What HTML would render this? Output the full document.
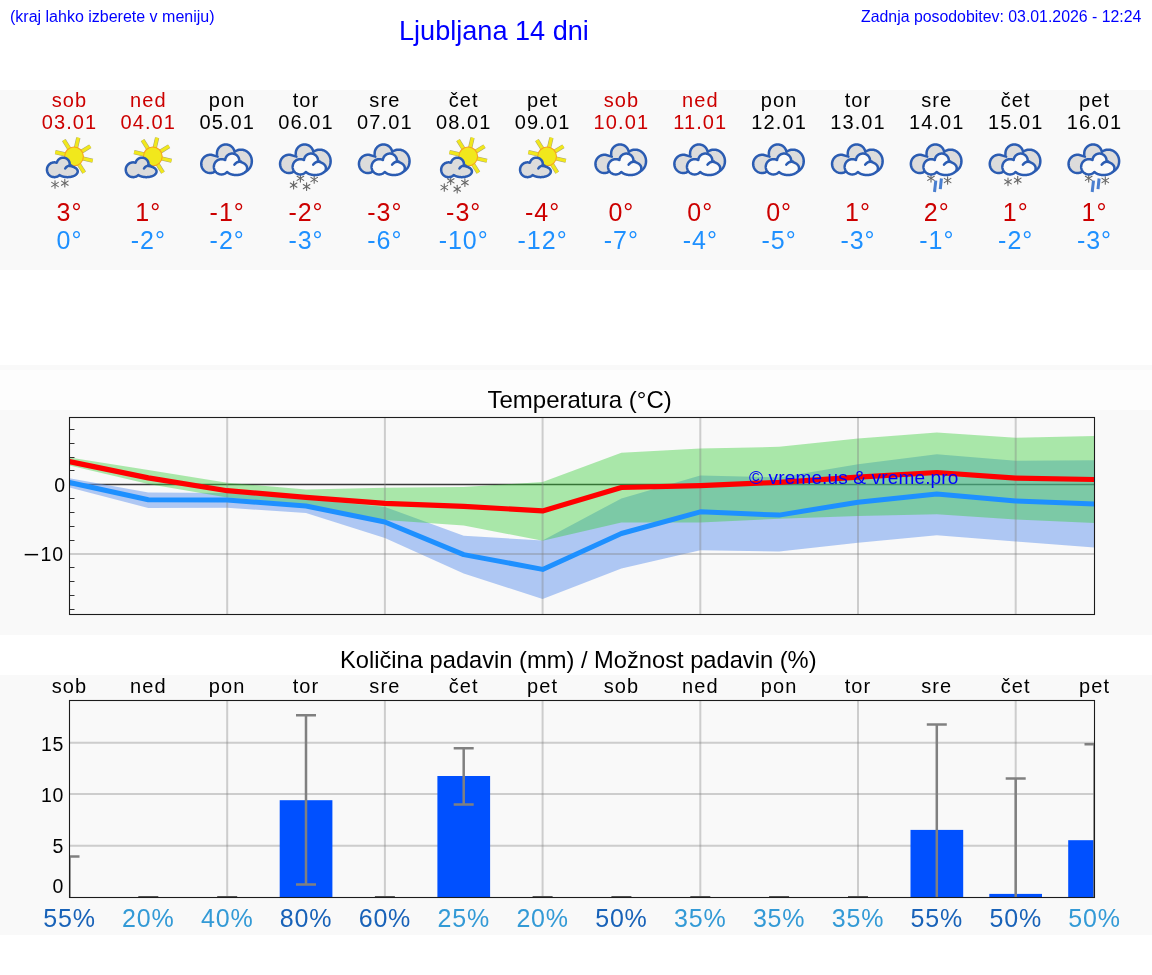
<!DOCTYPE html><html><head><meta charset="utf-8"><title>Ljubljana 14 dni</title><style>
html,body{margin:0;padding:0;background:#fff;}
body{width:1152px;height:975px;position:relative;overflow:hidden;font-family:"Liberation Sans", sans-serif;}
.t{position:absolute;white-space:nowrap;color:#0000ff;}
.band{position:absolute;left:0;width:1152px;background:#f9f9f9;}
svg{position:absolute;left:0;top:0;}
.t,svg{will-change:transform;}
</style></head><body>
<div class="band" style="top:90px;height:180px"></div>
<div class="band" style="top:365px;height:5px"></div>
<div class="band" style="top:370px;height:40px;background:#fdfdfd"></div>
<div class="band" style="top:410px;height:225px"></div>
<div class="band" style="top:675px;height:260px"></div>
<div class="t" style="left:9.5px;top:8px;font-size:16px;">(kraj lahko izberete v meniju)</div>
<div class="t" style="left:399.3px;top:14.6px;font-size:27.1px;">Ljubljana 14 dni</div>
<div class="t" style="right:10.2px;top:8px;font-size:15.86px;">Zadnja posodobitev: 03.01.2026 - 12:24</div>
<svg width="1152" height="975" viewBox="0 0 1152 975" font-family='Liberation Sans, sans-serif'>
<defs>
<g id="sun"><line x1="1.57" y1="-6.82" x2="4.32" y2="-18.71" stroke="#a9a47a" stroke-width="4.3"/><line x1="5.94" y1="-3.71" x2="16.28" y2="-10.17" stroke="#a9a47a" stroke-width="4.3"/><line x1="6.82" y1="1.57" x2="18.71" y2="4.32" stroke="#a9a47a" stroke-width="4.3"/><line x1="3.71" y1="5.94" x2="10.17" y2="16.28" stroke="#a9a47a" stroke-width="4.3"/><line x1="-1.57" y1="6.82" x2="-4.32" y2="18.71" stroke="#a9a47a" stroke-width="4.3"/><line x1="-5.94" y1="3.71" x2="-16.28" y2="10.17" stroke="#a9a47a" stroke-width="4.3"/><line x1="-6.82" y1="-1.57" x2="-18.71" y2="-4.32" stroke="#a9a47a" stroke-width="4.3"/><line x1="-3.71" y1="-5.94" x2="-10.17" y2="-16.28" stroke="#a9a47a" stroke-width="4.3"/><line x1="1.57" y1="-6.82" x2="4.32" y2="-18.71" stroke="#f1e81c" stroke-width="3.2"/><line x1="5.94" y1="-3.71" x2="16.28" y2="-10.17" stroke="#f1e81c" stroke-width="3.2"/><line x1="6.82" y1="1.57" x2="18.71" y2="4.32" stroke="#f1e81c" stroke-width="3.2"/><line x1="3.71" y1="5.94" x2="10.17" y2="16.28" stroke="#f1e81c" stroke-width="3.2"/><line x1="-1.57" y1="6.82" x2="-4.32" y2="18.71" stroke="#f1e81c" stroke-width="3.2"/><line x1="-5.94" y1="3.71" x2="-16.28" y2="10.17" stroke="#f1e81c" stroke-width="3.2"/><line x1="-6.82" y1="-1.57" x2="-18.71" y2="-4.32" stroke="#f1e81c" stroke-width="3.2"/><line x1="-3.71" y1="-5.94" x2="-10.17" y2="-16.28" stroke="#f1e81c" stroke-width="3.2"/><circle cx="0" cy="0" r="9.4" fill="#f1e81c" stroke="#f6a51f" stroke-width="1.1"/></g>
<g id="scloud"><path d="M7.88,170.00 L8.04,170.37 L8.14,170.74 L8.22,171.12 L8.24,171.50 L8.22,171.87 L8.14,172.24 L8.04,172.60 L7.89,172.95 L7.71,173.29 L7.48,173.61 L7.25,173.93 L6.97,174.21 L6.69,174.49 L6.38,174.75 L6.05,174.99 L5.71,175.21 L5.37,175.42 L5.01,175.61 L4.65,175.78 L4.31,175.95 L3.94,176.09 L3.59,176.23 L3.23,176.34 L2.88,176.45 L2.54,176.55 L2.21,176.65 L1.88,176.73 L1.55,176.80 L1.22,176.86 L0.92,176.92 L0.61,176.96 L0.30,177.00 L0.00,177.03 L-0.29,177.06 L-0.56,177.09 L-0.84,177.10 L-1.11,177.12 L-1.37,177.13 L-1.62,177.15 L-1.88,177.14 L-2.13,177.14 L-2.36,177.15 L-2.60,177.13 L-2.83,177.13 L-3.05,177.11 L-3.28,177.10 L-3.49,177.09 L-3.71,177.06 L-3.92,177.04 L-4.12,177.01 L-4.32,177.00 L-4.52,176.96 L-4.71,176.94 L-4.90,176.91 L-5.09,176.88 L-5.28,176.84 L-5.46,176.80 L-5.65,176.77 L-5.82,176.74 L-6.00,176.70 L-6.17,176.66 L-6.35,176.61 L-6.52,176.56 L-6.69,176.52 L-6.85,176.46 L-7.02,176.42 L-7.18,176.37 L-7.34,176.32 L-7.50,176.26 L-7.66,176.20 L-7.82,176.14 L-7.98,176.09 L-8.13,176.01 L-8.29,175.96 L-8.44,175.89 L-8.59,175.81 L-8.74,175.74 L-8.89,175.67 L-9.03,175.59 L-9.19,175.53 L-9.33,175.44 L-9.47,175.35 L-9.62,175.27 L-9.76,175.18 L-9.91,175.09 L-10.37,175.39 L-11.04,175.90 L-11.63,176.26 L-12.20,176.53 L-12.75,176.75 L-13.27,176.90 L-13.80,177.03 L-14.30,177.09 L-14.81,177.14 L-15.31,177.15 L-15.79,177.11 L-16.27,177.06 L-16.73,176.97 L-17.19,176.86 L-17.62,176.71 L-18.06,176.55 L-18.47,176.36 L-18.87,176.14 L-19.25,175.90 L-19.62,175.64 L-19.97,175.36 L-20.29,175.06 L-20.61,174.75 L-20.88,174.41 L-21.15,174.06 L-21.40,173.70 L-21.61,173.32 L-21.81,172.93 L-22.00,172.53 L-22.14,172.12 L-22.27,171.71 L-22.37,171.29 L-22.46,170.86 L-22.51,170.43 L-22.54,170.00 L-22.53,169.57 L-22.52,169.13 L-22.47,168.70 L-22.39,168.28 L-22.30,167.85 L-22.18,167.44 L-22.03,167.03 L-21.85,166.63 L-21.66,166.24 L-21.44,165.86 L-21.19,165.50 L-20.93,165.15 L-20.65,164.81 L-20.34,164.50 L-20.02,164.19 L-19.68,163.91 L-19.32,163.65 L-18.94,163.41 L-18.55,163.19 L-18.14,162.99 L-17.72,162.82 L-17.29,162.67 L-16.83,162.56 L-16.37,162.46 L-15.92,162.39 L-15.43,162.36 L-14.94,162.36 L-14.46,162.39 L-13.95,162.46 L-13.44,162.56 L-12.94,162.69 L-12.65,162.61 L-12.56,162.32 L-12.47,162.01 L-12.36,161.72 L-12.23,161.42 L-12.08,161.15 L-11.93,160.88 L-11.76,160.60 L-11.58,160.34 L-11.38,160.09 L-11.18,159.84 L-10.96,159.60 L-10.73,159.38 L-10.49,159.17 L-10.24,158.97 L-9.97,158.78 L-9.70,158.61 L-9.42,158.46 L-9.13,158.31 L-8.84,158.18 L-8.54,158.05 L-8.23,157.95 L-7.92,157.87 L-7.61,157.79 L-7.29,157.73 L-6.97,157.70 L-6.65,157.68 L-6.32,157.66 L-6.00,157.66 L-5.68,157.68 L-5.36,157.74 L-5.04,157.78 L-4.72,157.85 L-4.41,157.94 L-4.10,158.03 L-3.81,158.16 L-3.51,158.28 L-3.22,158.43 L-2.94,158.58 L-2.67,158.76 L-2.41,158.95 L-2.15,159.14 L-1.91,159.36 L-1.68,159.58 L-1.46,159.80 L-1.25,160.04 L-1.05,160.29 L-0.87,160.54 L-0.70,160.82 L-0.55,161.10 L-0.40,161.38 L-0.27,161.66 L-0.16,161.96 L-0.06,162.26 L0.03,162.55 L0.10,162.85 L0.16,163.16 L0.20,163.47 L0.22,163.78 L0.24,164.08 L0.24,164.38 L0.22,164.69 L0.20,164.98 L0.16,165.28 L0.10,165.57 L0.03,165.85 L0.19,165.98 L0.48,166.03 L0.81,166.07 L1.14,166.13 L1.47,166.20 L1.83,166.26 L2.20,166.35 L2.57,166.45 L2.96,166.56 L3.35,166.69 L3.76,166.83 L4.16,166.99 L4.57,167.17 L4.97,167.37 L5.37,167.58 L5.76,167.82 L6.15,168.08 L6.51,168.35 L6.85,168.65 L7.16,168.96 L7.42,169.30 L7.68,169.64Z" fill="#dcdcdc" stroke="#2b5cb2" stroke-width="2.5" stroke-linejoin="round"/><path d="M-4.3,168.5 Q-2.6,165.5 1.8,165.6" fill="none" stroke="#2b5cb2" stroke-width="2.5" stroke-linecap="round"/></g>
<g id="bcloud"><path d="M24.58,160.00 L24.63,160.65 L24.65,161.29 L24.62,161.94 L24.56,162.58 L24.47,163.22 L24.36,163.86 L24.19,164.48 L24.00,165.10 L23.78,165.71 L23.53,166.30 L23.24,166.88 L22.92,167.45 L22.57,167.99 L22.18,168.51 L21.77,169.02 L21.34,169.50 L20.87,169.95 L20.37,170.38 L19.84,170.77 L19.30,171.14 L18.72,171.47 L18.13,171.78 L17.52,172.04 L16.88,172.26 L16.23,172.46 L15.54,172.59 L14.86,172.69 L14.15,172.74 L13.42,172.73 L12.69,172.69 L11.94,172.58 L11.16,172.40 L10.38,172.15 L9.59,171.84 L8.77,171.42 L7.92,170.91 L7.02,170.22 L5.97,169.19 L1.09,161.77 L1.04,161.80 L0.98,161.81 L0.94,161.84 L0.88,161.84 L0.83,161.86 L0.77,161.87 L0.72,161.89 L0.67,161.89 L0.62,161.90 L0.57,161.92 L0.52,161.93 L0.47,161.94 L0.42,161.96 L0.36,161.97 L0.31,161.98 L0.26,161.98 L0.21,161.99 L0.16,161.99 L0.11,162.02 L0.05,162.02 L0.00,162.02 L-0.05,162.04 L-0.11,162.04 L-0.16,162.05 L-0.22,162.07 L-0.27,162.06 L-0.33,162.07 L-0.39,162.08 L-0.44,162.09 L-0.50,162.10 L-0.56,162.11 L-0.62,162.11 L-0.69,162.11 L-0.75,162.11 L-0.82,162.13 L-0.88,162.12 L-0.95,162.14 L-1.02,162.13 L-1.09,162.14 L-1.16,162.14 L-1.24,162.15 L-1.32,162.15 L-1.39,162.15 L-1.47,162.14 L-1.55,162.14 L-1.64,162.14 L-1.72,162.13 L-1.82,162.13 L-1.91,162.13 L-2.01,162.12 L-2.11,162.11 L-12.33,171.70 L-13.84,172.46 L-15.01,172.82 L-16.04,172.99 L-16.99,173.04 L-17.90,173.00 L-18.72,172.87 L-19.51,172.67 L-20.26,172.41 L-20.96,172.10 L-21.60,171.73 L-22.22,171.32 L-22.78,170.87 L-23.31,170.38 L-23.78,169.85 L-24.22,169.30 L-24.60,168.71 L-24.94,168.10 L-25.24,167.48 L-25.46,166.82 L-25.67,166.16 L-25.80,165.48 L-25.90,164.80 L-25.94,164.11 L-25.94,163.41 L-25.86,162.72 L-25.76,162.03 L-25.58,161.34 L-25.37,160.66 L-25.08,160.00 L-24.75,159.35 L-24.37,158.72 L-23.93,158.12 L-23.43,157.54 L-22.86,156.99 L-22.22,156.48 L-21.51,156.01 L-20.74,155.59 L-19.86,155.23 L-18.84,154.95 L-17.64,154.77 L-15.96,154.81 L-9.60,156.60 L-9.73,156.27 L-9.85,155.92 L-9.94,155.57 L-10.04,155.21 L-10.10,154.85 L-10.16,154.48 L-10.20,154.11 L-10.23,153.73 L-10.25,153.34 L-10.24,152.97 L-10.21,152.58 L-10.17,152.20 L-10.12,151.81 L-10.04,151.43 L-9.94,151.05 L-9.84,150.67 L-9.72,150.28 L-9.57,149.92 L-9.41,149.55 L-9.24,149.19 L-9.04,148.84 L-8.83,148.50 L-8.59,148.17 L-8.36,147.84 L-8.09,147.54 L-7.83,147.23 L-7.54,146.94 L-7.24,146.66 L-6.93,146.40 L-6.60,146.15 L-6.27,145.91 L-5.92,145.70 L-5.56,145.51 L-5.20,145.31 L-4.83,145.14 L-4.44,145.00 L-4.05,144.87 L-3.66,144.75 L-3.26,144.66 L-2.86,144.58 L-2.45,144.51 L-2.04,144.47 L-1.63,144.47 L-1.22,144.47 L-0.81,144.48 L-0.41,144.53 L-0.00,144.58 L0.40,144.65 L0.80,144.74 L1.19,144.85 L1.58,144.98 L1.96,145.13 L2.33,145.28 L2.69,145.47 L3.05,145.66 L3.39,145.86 L3.73,146.09 L4.04,146.35 L4.36,146.59 L4.65,146.86 L4.94,147.14 L5.20,147.44 L5.47,147.72 L5.71,148.03 L5.93,148.36 L6.15,148.68 L6.34,149.02 L6.52,149.36 L6.68,149.72 L6.83,150.06 L6.96,150.42 L7.07,150.78 L7.17,151.14 L7.26,151.50 L7.32,151.87 L8.32,151.24 L9.31,150.69 L10.23,150.29 L11.07,150.03 L11.91,149.83 L12.70,149.72 L13.47,149.66 L14.22,149.67 L14.95,149.73 L15.67,149.83 L16.35,149.98 L17.01,150.18 L17.66,150.41 L18.28,150.68 L18.86,151.00 L19.44,151.34 L19.99,151.72 L20.50,152.13 L21.00,152.56 L21.46,153.03 L21.88,153.52 L22.29,154.03 L22.66,154.56 L23.01,155.11 L23.32,155.68 L23.61,156.26 L23.85,156.86 L24.07,157.47 L24.25,158.09 L24.39,158.72 L24.49,159.36Z" fill="#dcdcdc" stroke="#2b5cb2" stroke-width="2.5" stroke-linejoin="round"/><path d="M19.78,167.00 L19.87,167.42 L19.92,167.83 L19.93,168.25 L19.91,168.67 L19.84,169.09 L19.74,169.49 L19.59,169.89 L19.42,170.28 L19.21,170.65 L18.97,171.01 L18.71,171.36 L18.42,171.68 L18.10,171.99 L17.78,172.29 L17.43,172.56 L17.06,172.82 L16.71,173.06 L16.33,173.28 L15.95,173.49 L15.55,173.67 L15.17,173.84 L14.79,174.00 L14.40,174.15 L14.02,174.28 L13.63,174.39 L13.26,174.50 L12.90,174.60 L12.53,174.68 L12.17,174.75 L11.81,174.81 L11.46,174.86 L11.12,174.91 L10.79,174.95 L10.46,174.97 L10.14,175.00 L9.83,175.03 L9.52,175.03 L9.22,175.03 L8.93,175.05 L8.64,175.04 L8.36,175.03 L8.09,175.02 L7.81,175.00 L7.55,174.98 L7.30,174.96 L7.05,174.94 L6.80,174.90 L6.56,174.87 L6.32,174.82 L6.09,174.79 L5.86,174.76 L5.64,174.71 L5.42,174.67 L5.21,174.62 L5.00,174.57 L4.79,174.52 L4.59,174.46 L4.39,174.41 L4.19,174.34 L4.00,174.28 L3.81,174.22 L3.63,174.15 L3.44,174.10 L3.26,174.02 L3.08,173.96 L2.91,173.87 L2.74,173.80 L2.57,173.73 L2.40,173.65 L2.24,173.57 L2.07,173.50 L1.92,173.41 L1.76,173.33 L1.61,173.24 L1.45,173.15 L1.30,173.07 L1.15,172.98 L1.01,172.86 L0.87,172.77 L0.72,172.68 L0.58,172.58 L0.45,172.47 L0.32,172.36 L0.18,172.26 L0.06,172.14 L-0.07,172.02 L-0.95,172.79 L-1.67,173.30 L-2.32,173.66 L-2.93,173.93 L-3.50,174.12 L-4.07,174.27 L-4.62,174.36 L-5.17,174.43 L-5.69,174.44 L-6.23,174.43 L-6.73,174.37 L-7.22,174.29 L-7.72,174.18 L-8.18,174.03 L-8.64,173.86 L-9.06,173.66 L-9.48,173.43 L-9.90,173.19 L-10.28,172.92 L-10.66,172.63 L-10.99,172.31 L-11.31,171.98 L-11.63,171.63 L-11.90,171.26 L-12.16,170.88 L-12.39,170.48 L-12.60,170.08 L-12.79,169.66 L-12.93,169.23 L-13.07,168.79 L-13.19,168.35 L-13.26,167.90 L-13.31,167.45 L-13.34,167.00 L-13.33,166.55 L-13.32,166.09 L-13.25,165.64 L-13.17,165.20 L-13.05,164.75 L-12.93,164.32 L-12.77,163.89 L-12.57,163.48 L-12.37,163.07 L-12.13,162.68 L-11.88,162.30 L-11.60,161.93 L-11.29,161.59 L-10.96,161.26 L-10.62,160.95 L-10.25,160.65 L-9.86,160.39 L-9.45,160.14 L-9.04,159.92 L-8.59,159.73 L-8.14,159.56 L-7.67,159.42 L-7.19,159.31 L-6.71,159.22 L-6.20,159.17 L-5.68,159.16 L-5.16,159.18 L-4.64,159.22 L-4.08,159.33 L-3.54,159.46 L-2.97,159.66 L-2.38,159.91 L-2.01,159.96 L-1.98,159.62 L-1.92,159.29 L-1.84,158.96 L-1.75,158.63 L-1.65,158.29 L-1.53,157.98 L-1.40,157.65 L-1.24,157.35 L-1.08,157.04 L-0.89,156.75 L-0.69,156.46 L-0.49,156.17 L-0.26,155.91 L-0.02,155.65 L0.24,155.42 L0.50,155.19 L0.78,154.96 L1.06,154.77 L1.36,154.58 L1.66,154.39 L1.98,154.24 L2.30,154.09 L2.63,153.97 L2.97,153.86 L3.31,153.76 L3.65,153.68 L4.00,153.64 L4.35,153.58 L4.70,153.56 L5.06,153.56 L5.41,153.57 L5.76,153.60 L6.11,153.65 L6.46,153.71 L6.81,153.80 L7.15,153.89 L7.48,154.02 L7.81,154.15 L8.13,154.29 L8.44,154.46 L8.74,154.64 L9.04,154.84 L9.32,155.05 L9.60,155.27 L9.86,155.51 L10.11,155.75 L10.34,156.02 L10.56,156.29 L10.78,156.57 L10.97,156.86 L11.15,157.16 L11.31,157.48 L11.45,157.80 L11.59,158.12 L11.71,158.44 L11.81,158.77 L11.88,159.12 L11.95,159.46 L12.00,159.80 L12.03,160.14 L12.04,160.49 L12.04,160.83 L12.03,161.17 L11.98,161.52 L12.22,161.66 L12.59,161.73 L12.97,161.82 L13.35,161.92 L13.75,162.03 L14.15,162.16 L14.54,162.31 L14.96,162.46 L15.37,162.64 L15.78,162.83 L16.19,163.04 L16.60,163.27 L16.98,163.52 L17.36,163.79 L17.73,164.08 L18.08,164.39 L18.42,164.72 L18.71,165.06 L19.00,165.42 L19.25,165.80 L19.46,166.19 L19.63,166.59Z" fill="#fafafa" stroke="#2b5cb2" stroke-width="2.5" stroke-linejoin="round"/><path d="M7.2,164.6 Q9.3,161.2 13.6,161.4" fill="none" stroke="#2b5cb2" stroke-width="2.5" stroke-linecap="round"/></g>
<g id="flake" stroke="#666" stroke-width="1.1" stroke-linecap="round"><line x1="0" y1="-3.8" x2="0" y2="3.8"/><line x1="-3.3" y1="-2.1" x2="3.3" y2="2.1"/><line x1="-3.3" y1="2.1" x2="3.3" y2="-2.1"/></g>
</defs>
<text x="69.5" y="106.8" font-size="20" letter-spacing="1.1" text-anchor="middle" fill="#cc0000">sob</text>
<text x="69.5" y="129.4" font-size="20" letter-spacing="1.1" text-anchor="middle" fill="#cc0000">03.01</text>
<text x="69.5" y="220.8" font-size="25" letter-spacing="1" text-anchor="middle" fill="#cc0000">3°</text>
<text x="69.5" y="248.8" font-size="25" letter-spacing="1" text-anchor="middle" fill="#1e90ff">0°</text>
<text x="148.3" y="106.8" font-size="20" letter-spacing="1.1" text-anchor="middle" fill="#cc0000">ned</text>
<text x="148.3" y="129.4" font-size="20" letter-spacing="1.1" text-anchor="middle" fill="#cc0000">04.01</text>
<text x="148.3" y="220.8" font-size="25" letter-spacing="1" text-anchor="middle" fill="#cc0000">1°</text>
<text x="148.3" y="248.8" font-size="25" letter-spacing="1" text-anchor="middle" fill="#1e90ff">-2°</text>
<text x="227.2" y="106.8" font-size="20" letter-spacing="1.1" text-anchor="middle" fill="#000000">pon</text>
<text x="227.2" y="129.4" font-size="20" letter-spacing="1.1" text-anchor="middle" fill="#000000">05.01</text>
<text x="227.2" y="220.8" font-size="25" letter-spacing="1" text-anchor="middle" fill="#cc0000">-1°</text>
<text x="227.2" y="248.8" font-size="25" letter-spacing="1" text-anchor="middle" fill="#1e90ff">-2°</text>
<text x="306.0" y="106.8" font-size="20" letter-spacing="1.1" text-anchor="middle" fill="#000000">tor</text>
<text x="306.0" y="129.4" font-size="20" letter-spacing="1.1" text-anchor="middle" fill="#000000">06.01</text>
<text x="306.0" y="220.8" font-size="25" letter-spacing="1" text-anchor="middle" fill="#cc0000">-2°</text>
<text x="306.0" y="248.8" font-size="25" letter-spacing="1" text-anchor="middle" fill="#1e90ff">-3°</text>
<text x="384.9" y="106.8" font-size="20" letter-spacing="1.1" text-anchor="middle" fill="#000000">sre</text>
<text x="384.9" y="129.4" font-size="20" letter-spacing="1.1" text-anchor="middle" fill="#000000">07.01</text>
<text x="384.9" y="220.8" font-size="25" letter-spacing="1" text-anchor="middle" fill="#cc0000">-3°</text>
<text x="384.9" y="248.8" font-size="25" letter-spacing="1" text-anchor="middle" fill="#1e90ff">-6°</text>
<text x="463.7" y="106.8" font-size="20" letter-spacing="1.1" text-anchor="middle" fill="#000000">čet</text>
<text x="463.7" y="129.4" font-size="20" letter-spacing="1.1" text-anchor="middle" fill="#000000">08.01</text>
<text x="463.7" y="220.8" font-size="25" letter-spacing="1" text-anchor="middle" fill="#cc0000">-3°</text>
<text x="463.7" y="248.8" font-size="25" letter-spacing="1" text-anchor="middle" fill="#1e90ff">-10°</text>
<text x="542.6" y="106.8" font-size="20" letter-spacing="1.1" text-anchor="middle" fill="#000000">pet</text>
<text x="542.6" y="129.4" font-size="20" letter-spacing="1.1" text-anchor="middle" fill="#000000">09.01</text>
<text x="542.6" y="220.8" font-size="25" letter-spacing="1" text-anchor="middle" fill="#cc0000">-4°</text>
<text x="542.6" y="248.8" font-size="25" letter-spacing="1" text-anchor="middle" fill="#1e90ff">-12°</text>
<text x="621.4" y="106.8" font-size="20" letter-spacing="1.1" text-anchor="middle" fill="#cc0000">sob</text>
<text x="621.4" y="129.4" font-size="20" letter-spacing="1.1" text-anchor="middle" fill="#cc0000">10.01</text>
<text x="621.4" y="220.8" font-size="25" letter-spacing="1" text-anchor="middle" fill="#cc0000">0°</text>
<text x="621.4" y="248.8" font-size="25" letter-spacing="1" text-anchor="middle" fill="#1e90ff">-7°</text>
<text x="700.3" y="106.8" font-size="20" letter-spacing="1.1" text-anchor="middle" fill="#cc0000">ned</text>
<text x="700.3" y="129.4" font-size="20" letter-spacing="1.1" text-anchor="middle" fill="#cc0000">11.01</text>
<text x="700.3" y="220.8" font-size="25" letter-spacing="1" text-anchor="middle" fill="#cc0000">0°</text>
<text x="700.3" y="248.8" font-size="25" letter-spacing="1" text-anchor="middle" fill="#1e90ff">-4°</text>
<text x="779.1" y="106.8" font-size="20" letter-spacing="1.1" text-anchor="middle" fill="#000000">pon</text>
<text x="779.1" y="129.4" font-size="20" letter-spacing="1.1" text-anchor="middle" fill="#000000">12.01</text>
<text x="779.1" y="220.8" font-size="25" letter-spacing="1" text-anchor="middle" fill="#cc0000">0°</text>
<text x="779.1" y="248.8" font-size="25" letter-spacing="1" text-anchor="middle" fill="#1e90ff">-5°</text>
<text x="858.0" y="106.8" font-size="20" letter-spacing="1.1" text-anchor="middle" fill="#000000">tor</text>
<text x="858.0" y="129.4" font-size="20" letter-spacing="1.1" text-anchor="middle" fill="#000000">13.01</text>
<text x="858.0" y="220.8" font-size="25" letter-spacing="1" text-anchor="middle" fill="#cc0000">1°</text>
<text x="858.0" y="248.8" font-size="25" letter-spacing="1" text-anchor="middle" fill="#1e90ff">-3°</text>
<text x="936.8" y="106.8" font-size="20" letter-spacing="1.1" text-anchor="middle" fill="#000000">sre</text>
<text x="936.8" y="129.4" font-size="20" letter-spacing="1.1" text-anchor="middle" fill="#000000">14.01</text>
<text x="936.8" y="220.8" font-size="25" letter-spacing="1" text-anchor="middle" fill="#cc0000">2°</text>
<text x="936.8" y="248.8" font-size="25" letter-spacing="1" text-anchor="middle" fill="#1e90ff">-1°</text>
<text x="1015.7" y="106.8" font-size="20" letter-spacing="1.1" text-anchor="middle" fill="#000000">čet</text>
<text x="1015.7" y="129.4" font-size="20" letter-spacing="1.1" text-anchor="middle" fill="#000000">15.01</text>
<text x="1015.7" y="220.8" font-size="25" letter-spacing="1" text-anchor="middle" fill="#cc0000">1°</text>
<text x="1015.7" y="248.8" font-size="25" letter-spacing="1" text-anchor="middle" fill="#1e90ff">-2°</text>
<text x="1094.5" y="106.8" font-size="20" letter-spacing="1.1" text-anchor="middle" fill="#000000">pet</text>
<text x="1094.5" y="129.4" font-size="20" letter-spacing="1.1" text-anchor="middle" fill="#000000">16.01</text>
<text x="1094.5" y="220.8" font-size="25" letter-spacing="1" text-anchor="middle" fill="#cc0000">1°</text>
<text x="1094.5" y="248.8" font-size="25" letter-spacing="1" text-anchor="middle" fill="#1e90ff">-3°</text>
<g transform="translate(69.5,0)"><use href="#sun" transform="translate(4.5,156.4)"/><use href="#flake" transform="translate(-14.5,184.5)"/><use href="#flake" transform="translate(-4.7,183.2)"/><use href="#scloud"/></g>
<g transform="translate(148.3,0)"><use href="#sun" transform="translate(4.5,156.4)"/><use href="#scloud"/></g>
<g transform="translate(227.2,0)"><use href="#bcloud"/></g>
<g transform="translate(306.0,0)"><use href="#flake" transform="translate(-5.6,178.3)"/><use href="#flake" transform="translate(8.2,179.5)"/><use href="#flake" transform="translate(-12.4,185.1)"/><use href="#flake" transform="translate(0.6,186.6)"/><use href="#bcloud"/></g>
<g transform="translate(384.9,0)"><use href="#bcloud"/></g>
<g transform="translate(463.7,0)"><use href="#sun" transform="translate(4.5,156.4)"/><use href="#flake" transform="translate(-13,180.8)"/><use href="#flake" transform="translate(1.2,182.6)"/><use href="#flake" transform="translate(-19.4,187.5)"/><use href="#flake" transform="translate(-6.5,189.1)"/><use href="#scloud"/></g>
<g transform="translate(542.6,0)"><use href="#sun" transform="translate(4.5,156.4)"/><use href="#scloud"/></g>
<g transform="translate(621.4,0)"><use href="#bcloud"/></g>
<g transform="translate(700.3,0)"><use href="#bcloud"/></g>
<g transform="translate(779.1,0)"><use href="#bcloud"/></g>
<g transform="translate(858.0,0)"><use href="#bcloud"/></g>
<g transform="translate(936.8,0)"><use href="#flake" transform="translate(-5.8,178.3)"/><use href="#flake" transform="translate(10.8,180.5)"/><line x1="-1" y1="180.6" x2="-2.3" y2="192.0" stroke="#4a7fd0" stroke-width="3.0"/><line x1="4.6" y1="178.5" x2="3.5" y2="189.2" stroke="#4a7fd0" stroke-width="3.0"/><use href="#bcloud"/></g>
<g transform="translate(1015.7,0)"><use href="#flake" transform="translate(-7.7,181.8)"/><use href="#flake" transform="translate(2,180.2)"/><use href="#bcloud"/></g>
<g transform="translate(1094.5,0)"><use href="#flake" transform="translate(-5.8,178.3)"/><use href="#flake" transform="translate(10.8,180.5)"/><line x1="-1" y1="180.6" x2="-2.3" y2="192.0" stroke="#4a7fd0" stroke-width="3.0"/><line x1="4.6" y1="178.5" x2="3.5" y2="189.2" stroke="#4a7fd0" stroke-width="3.0"/><use href="#bcloud"/></g>
<text x="579.6" y="407.8" font-size="24" text-anchor="middle" fill="#000">Temperatura (°C)</text>
<rect x="69.5" y="417.5" width="1025.0" height="197.0" fill="#f9f9f9"/>
<line x1="69.5" y1="484.5" x2="1094.5" y2="484.5" stroke="#3a3a3a" stroke-width="1.3"/>
<polygon points="69.5,478.3 148.3,492.5 227.2,493.0 306.0,499.0 384.9,506.9 463.7,535.8 542.6,540.5 621.4,498.4 700.3,475.4 779.1,477.5 858.0,464.3 936.8,454.2 1015.7,460.7 1094.5,460.3 1094.5,547.5 1015.7,541.4 936.8,535.3 858.0,542.8 779.1,551.5 700.3,550.2 621.4,568.6 542.6,599.0 463.7,573.4 384.9,538.1 306.0,513.0 227.2,507.7 148.3,508.0 69.5,487.6" fill="#6495ed" fill-opacity="0.5"/>
<polygon points="69.5,457.6 148.3,470.0 227.2,482.8 306.0,489.5 384.9,487.8 463.7,487.0 542.6,482.1 621.4,452.7 700.3,448.6 779.1,446.8 858.0,438.5 936.8,432.6 1015.7,437.7 1094.5,435.9 1094.5,523.1 1015.7,519.6 936.8,514.3 858.0,516.0 779.1,518.8 700.3,522.5 621.4,522.4 542.6,540.8 463.7,525.5 384.9,519.9 306.0,504.3 227.2,497.6 148.3,484.0 69.5,465.5" fill="#32cd32" fill-opacity="0.4"/>
<line x1="227.2" y1="417.5" x2="227.2" y2="614.5" stroke="#808080" stroke-opacity="0.36" stroke-width="2"/>
<line x1="384.9" y1="417.5" x2="384.9" y2="614.5" stroke="#808080" stroke-opacity="0.36" stroke-width="2"/>
<line x1="542.6" y1="417.5" x2="542.6" y2="614.5" stroke="#808080" stroke-opacity="0.36" stroke-width="2"/>
<line x1="700.3" y1="417.5" x2="700.3" y2="614.5" stroke="#808080" stroke-opacity="0.36" stroke-width="2"/>
<line x1="858.0" y1="417.5" x2="858.0" y2="614.5" stroke="#808080" stroke-opacity="0.36" stroke-width="2"/>
<line x1="1015.7" y1="417.5" x2="1015.7" y2="614.5" stroke="#808080" stroke-opacity="0.36" stroke-width="2"/>
<line x1="69.5" y1="554.0" x2="1094.5" y2="554.0" stroke="#808080" stroke-opacity="0.36" stroke-width="2"/>
<polyline points="69.5,482.5 148.3,499.8 227.2,500.0 306.0,506.0 384.9,522.0 463.7,554.6 542.6,569.4 621.4,533.5 700.3,511.8 779.1,515.1 858.0,502.2 936.8,494.1 1015.7,500.9 1094.5,503.9" fill="none" stroke="#1e90ff" stroke-width="5" stroke-linejoin="round"/>
<polyline points="69.5,461.6 148.3,477.9 227.2,490.7 306.0,497.3 384.9,503.4 463.7,506.3 542.6,510.9 621.4,487.5 700.3,485.6 779.1,482.3 858.0,477.2 936.8,472.5 1015.7,478.1 1094.5,479.5" fill="none" stroke="#ff0000" stroke-width="5.2" stroke-linejoin="round"/>
<text x="749" y="484" font-size="19" fill="#0000ff" letter-spacing="0.15">© vreme.us &amp; vreme.pro</text>
<line x1="69.5" y1="429.5" x2="74.5" y2="429.5" stroke="#333" stroke-width="1"/>
<line x1="69.5" y1="443.5" x2="74.5" y2="443.5" stroke="#333" stroke-width="1"/>
<line x1="69.5" y1="457.5" x2="74.5" y2="457.5" stroke="#333" stroke-width="1"/>
<line x1="69.5" y1="470.5" x2="74.5" y2="470.5" stroke="#333" stroke-width="1"/>
<line x1="69.5" y1="498.5" x2="74.5" y2="498.5" stroke="#333" stroke-width="1"/>
<line x1="69.5" y1="512.5" x2="74.5" y2="512.5" stroke="#333" stroke-width="1"/>
<line x1="69.5" y1="526.5" x2="74.5" y2="526.5" stroke="#333" stroke-width="1"/>
<line x1="69.5" y1="540.5" x2="74.5" y2="540.5" stroke="#333" stroke-width="1"/>
<line x1="69.5" y1="567.5" x2="74.5" y2="567.5" stroke="#333" stroke-width="1"/>
<line x1="69.5" y1="581.5" x2="74.5" y2="581.5" stroke="#333" stroke-width="1"/>
<line x1="69.5" y1="595.5" x2="74.5" y2="595.5" stroke="#333" stroke-width="1"/>
<line x1="69.5" y1="609.5" x2="74.5" y2="609.5" stroke="#333" stroke-width="1"/>
<rect x="69.5" y="417.5" width="1025.0" height="197.0" fill="none" stroke="#1c1c1c" stroke-width="1.1"/>
<text x="65" y="491.8" font-size="19.5" text-anchor="end" fill="#000">0</text>
<text x="64" y="561" font-size="19.5" text-anchor="end" letter-spacing="0.9" fill="#000">10</text>
<rect x="24.7" y="553.9" width="13.4" height="1.5" fill="#000"/>
<text x="578.3" y="667.7" font-size="23.7" text-anchor="middle" fill="#000">Količina padavin (mm) / Možnost padavin (%)</text>
<text x="69.5" y="693" font-size="20" letter-spacing="1.1" text-anchor="middle" fill="#000">sob</text>
<text x="148.3" y="693" font-size="20" letter-spacing="1.1" text-anchor="middle" fill="#000">ned</text>
<text x="227.2" y="693" font-size="20" letter-spacing="1.1" text-anchor="middle" fill="#000">pon</text>
<text x="306.0" y="693" font-size="20" letter-spacing="1.1" text-anchor="middle" fill="#000">tor</text>
<text x="384.9" y="693" font-size="20" letter-spacing="1.1" text-anchor="middle" fill="#000">sre</text>
<text x="463.7" y="693" font-size="20" letter-spacing="1.1" text-anchor="middle" fill="#000">čet</text>
<text x="542.6" y="693" font-size="20" letter-spacing="1.1" text-anchor="middle" fill="#000">pet</text>
<text x="621.4" y="693" font-size="20" letter-spacing="1.1" text-anchor="middle" fill="#000">sob</text>
<text x="700.3" y="693" font-size="20" letter-spacing="1.1" text-anchor="middle" fill="#000">ned</text>
<text x="779.1" y="693" font-size="20" letter-spacing="1.1" text-anchor="middle" fill="#000">pon</text>
<text x="858.0" y="693" font-size="20" letter-spacing="1.1" text-anchor="middle" fill="#000">tor</text>
<text x="936.8" y="693" font-size="20" letter-spacing="1.1" text-anchor="middle" fill="#000">sre</text>
<text x="1015.7" y="693" font-size="20" letter-spacing="1.1" text-anchor="middle" fill="#000">čet</text>
<text x="1094.5" y="693" font-size="20" letter-spacing="1.1" text-anchor="middle" fill="#000">pet</text>
<rect x="69.5" y="700.5" width="1025.0" height="197.0" fill="#f9f9f9"/>
<line x1="227.2" y1="700.5" x2="227.2" y2="897.5" stroke="#808080" stroke-opacity="0.36" stroke-width="2"/>
<line x1="384.9" y1="700.5" x2="384.9" y2="897.5" stroke="#808080" stroke-opacity="0.36" stroke-width="2"/>
<line x1="542.6" y1="700.5" x2="542.6" y2="897.5" stroke="#808080" stroke-opacity="0.36" stroke-width="2"/>
<line x1="700.3" y1="700.5" x2="700.3" y2="897.5" stroke="#808080" stroke-opacity="0.36" stroke-width="2"/>
<line x1="858.0" y1="700.5" x2="858.0" y2="897.5" stroke="#808080" stroke-opacity="0.36" stroke-width="2"/>
<line x1="1015.7" y1="700.5" x2="1015.7" y2="897.5" stroke="#808080" stroke-opacity="0.36" stroke-width="2"/>
<line x1="69.5" y1="742.8" x2="1094.5" y2="742.8" stroke="#808080" stroke-opacity="0.36" stroke-width="2"/>
<line x1="69.5" y1="794.0" x2="1094.5" y2="794.0" stroke="#808080" stroke-opacity="0.36" stroke-width="2"/>
<line x1="69.5" y1="845.8" x2="1094.5" y2="845.8" stroke="#808080" stroke-opacity="0.36" stroke-width="2"/>
<clipPath id="pc"><rect x="69.5" y="700.5" width="1025.0" height="197.0"/></clipPath>
<g clip-path="url(#pc)">
<rect x="279.7" y="800.2" width="52.7" height="97.3" fill="#0050ff"/>
<rect x="437.4" y="776.0" width="52.7" height="121.5" fill="#0050ff"/>
<rect x="910.5" y="829.9" width="52.7" height="67.6" fill="#0050ff"/>
<rect x="989.3" y="893.9" width="52.7" height="3.6" fill="#0050ff"/>
<rect x="1068.2" y="840.2" width="52.7" height="57.3" fill="#0050ff"/>
<line x1="69.5" y1="856.5" x2="69.5" y2="897.5" stroke="#808080" stroke-width="2.5"/>
<line x1="59.5" y1="856.5" x2="79.5" y2="856.5" stroke="#808080" stroke-width="2.5"/>
<line x1="138.3" y1="896.7" x2="158.3" y2="896.7" stroke="#555" stroke-width="1.6"/>
<line x1="217.2" y1="896.7" x2="237.2" y2="896.7" stroke="#555" stroke-width="1.6"/>
<line x1="306.0" y1="715.2" x2="306.0" y2="884.4" stroke="#808080" stroke-width="2.5"/>
<line x1="296.0" y1="715.2" x2="316.0" y2="715.2" stroke="#808080" stroke-width="2.5"/>
<line x1="296.0" y1="884.4" x2="316.0" y2="884.4" stroke="#808080" stroke-width="2.5"/>
<line x1="374.9" y1="896.7" x2="394.9" y2="896.7" stroke="#555" stroke-width="1.6"/>
<line x1="463.7" y1="748.3" x2="463.7" y2="804.4" stroke="#808080" stroke-width="2.5"/>
<line x1="453.7" y1="748.3" x2="473.7" y2="748.3" stroke="#808080" stroke-width="2.5"/>
<line x1="453.7" y1="804.4" x2="473.7" y2="804.4" stroke="#808080" stroke-width="2.5"/>
<line x1="532.6" y1="896.7" x2="552.6" y2="896.7" stroke="#555" stroke-width="1.6"/>
<line x1="611.4" y1="896.7" x2="631.4" y2="896.7" stroke="#555" stroke-width="1.6"/>
<line x1="690.3" y1="896.7" x2="710.3" y2="896.7" stroke="#555" stroke-width="1.6"/>
<line x1="769.1" y1="896.7" x2="789.1" y2="896.7" stroke="#555" stroke-width="1.6"/>
<line x1="848.0" y1="896.7" x2="868.0" y2="896.7" stroke="#555" stroke-width="1.6"/>
<line x1="936.8" y1="724.4" x2="936.8" y2="897.5" stroke="#808080" stroke-width="2.5"/>
<line x1="926.8" y1="724.4" x2="946.8" y2="724.4" stroke="#808080" stroke-width="2.5"/>
<line x1="1015.7" y1="778.4" x2="1015.7" y2="897.5" stroke="#808080" stroke-width="2.5"/>
<line x1="1005.7" y1="778.4" x2="1025.7" y2="778.4" stroke="#808080" stroke-width="2.5"/>
<line x1="1094.5" y1="744.3" x2="1094.5" y2="897.5" stroke="#808080" stroke-width="2.5"/>
<line x1="1084.5" y1="744.3" x2="1104.5" y2="744.3" stroke="#808080" stroke-width="2.5"/>
</g>
<rect x="69.5" y="700.5" width="1025.0" height="197.0" fill="none" stroke="#1c1c1c" stroke-width="1.1"/>
<text x="64" y="751.3" font-size="19.5" letter-spacing="0.6" text-anchor="end" fill="#000">15</text>
<text x="64" y="801.8" font-size="19.5" letter-spacing="0.6" text-anchor="end" fill="#000">10</text>
<text x="64" y="852.9" font-size="19.5" letter-spacing="0.6" text-anchor="end" fill="#000">5</text>
<text x="64" y="893.0" font-size="19.5" letter-spacing="0.6" text-anchor="end" fill="#000">0</text>
<text x="69.5" y="926.8" font-size="25" letter-spacing="0.8" text-anchor="middle" fill="#1862b8">55%</text>
<text x="148.3" y="926.8" font-size="25" letter-spacing="0.8" text-anchor="middle" fill="#339ad6">20%</text>
<text x="227.2" y="926.8" font-size="25" letter-spacing="0.8" text-anchor="middle" fill="#339ad6">40%</text>
<text x="306.0" y="926.8" font-size="25" letter-spacing="0.8" text-anchor="middle" fill="#1862b8">80%</text>
<text x="384.9" y="926.8" font-size="25" letter-spacing="0.8" text-anchor="middle" fill="#1862b8">60%</text>
<text x="463.7" y="926.8" font-size="25" letter-spacing="0.8" text-anchor="middle" fill="#339ad6">25%</text>
<text x="542.6" y="926.8" font-size="25" letter-spacing="0.8" text-anchor="middle" fill="#339ad6">20%</text>
<text x="621.4" y="926.8" font-size="25" letter-spacing="0.8" text-anchor="middle" fill="#1862b8">50%</text>
<text x="700.3" y="926.8" font-size="25" letter-spacing="0.8" text-anchor="middle" fill="#339ad6">35%</text>
<text x="779.1" y="926.8" font-size="25" letter-spacing="0.8" text-anchor="middle" fill="#339ad6">35%</text>
<text x="858.0" y="926.8" font-size="25" letter-spacing="0.8" text-anchor="middle" fill="#339ad6">35%</text>
<text x="936.8" y="926.8" font-size="25" letter-spacing="0.8" text-anchor="middle" fill="#1862b8">55%</text>
<text x="1015.7" y="926.8" font-size="25" letter-spacing="0.8" text-anchor="middle" fill="#1862b8">50%</text>
<text x="1094.5" y="926.8" font-size="25" letter-spacing="0.8" text-anchor="middle" fill="#339ad6">50%</text>
</svg></body></html>
